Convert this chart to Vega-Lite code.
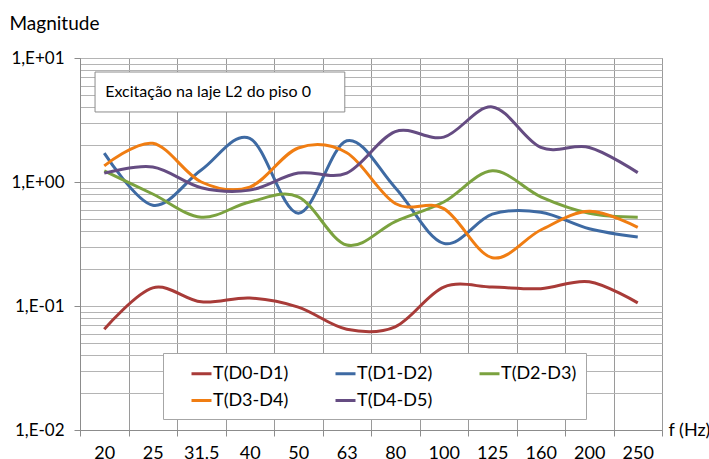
{
  "$schema": "https://vega.github.io/schema/vega-lite/v6.json",
  "width": 582,
  "height": 372,
  "autosize": {"type": "none"},
  "padding": {"left": 80, "top": 58, "right": 47, "bottom": 29},
  "background": "white",
  "config": {
    "font": "Lato",
    "view": {"stroke": "#8c8c8c", "strokeWidth": 1}
  },
  "datasets": {
    "series": [
      {"f": "20", "s": "T(D0-D1)", "v": 0.065},
      {"f": "25", "s": "T(D0-D1)", "v": 0.14},
      {"f": "31.5", "s": "T(D0-D1)", "v": 0.108},
      {"f": "40", "s": "T(D0-D1)", "v": 0.116},
      {"f": "50", "s": "T(D0-D1)", "v": 0.098},
      {"f": "63", "s": "T(D0-D1)", "v": 0.065},
      {"f": "80", "s": "T(D0-D1)", "v": 0.068},
      {"f": "100", "s": "T(D0-D1)", "v": 0.142},
      {"f": "125", "s": "T(D0-D1)", "v": 0.142},
      {"f": "160", "s": "T(D0-D1)", "v": 0.138},
      {"f": "200", "s": "T(D0-D1)", "v": 0.157},
      {"f": "250", "s": "T(D0-D1)", "v": 0.106},
      {"f": "20", "s": "T(D1-D2)", "v": 1.71},
      {"f": "25", "s": "T(D1-D2)", "v": 0.65},
      {"f": "31.5", "s": "T(D1-D2)", "v": 1.25},
      {"f": "40", "s": "T(D1-D2)", "v": 2.25},
      {"f": "50", "s": "T(D1-D2)", "v": 0.56},
      {"f": "63", "s": "T(D1-D2)", "v": 2.15},
      {"f": "80", "s": "T(D1-D2)", "v": 0.9},
      {"f": "100", "s": "T(D1-D2)", "v": 0.32},
      {"f": "125", "s": "T(D1-D2)", "v": 0.55},
      {"f": "160", "s": "T(D1-D2)", "v": 0.57},
      {"f": "200", "s": "T(D1-D2)", "v": 0.42},
      {"f": "250", "s": "T(D1-D2)", "v": 0.36},
      {"f": "20", "s": "T(D2-D3)", "v": 1.23},
      {"f": "25", "s": "T(D2-D3)", "v": 0.8},
      {"f": "31.5", "s": "T(D2-D3)", "v": 0.52},
      {"f": "40", "s": "T(D2-D3)", "v": 0.69},
      {"f": "50", "s": "T(D2-D3)", "v": 0.76},
      {"f": "63", "s": "T(D2-D3)", "v": 0.31},
      {"f": "80", "s": "T(D2-D3)", "v": 0.48},
      {"f": "100", "s": "T(D2-D3)", "v": 0.69},
      {"f": "125", "s": "T(D2-D3)", "v": 1.23},
      {"f": "160", "s": "T(D2-D3)", "v": 0.76},
      {"f": "200", "s": "T(D2-D3)", "v": 0.56},
      {"f": "250", "s": "T(D2-D3)", "v": 0.52},
      {"f": "20", "s": "T(D3-D4)", "v": 1.35},
      {"f": "25", "s": "T(D3-D4)", "v": 2.05},
      {"f": "31.5", "s": "T(D3-D4)", "v": 1.0},
      {"f": "40", "s": "T(D3-D4)", "v": 0.91},
      {"f": "50", "s": "T(D3-D4)", "v": 1.88},
      {"f": "63", "s": "T(D3-D4)", "v": 1.72},
      {"f": "80", "s": "T(D3-D4)", "v": 0.67},
      {"f": "100", "s": "T(D3-D4)", "v": 0.61},
      {"f": "125", "s": "T(D3-D4)", "v": 0.245},
      {"f": "160", "s": "T(D3-D4)", "v": 0.41},
      {"f": "200", "s": "T(D3-D4)", "v": 0.58},
      {"f": "250", "s": "T(D3-D4)", "v": 0.43},
      {"f": "20", "s": "T(D4-D5)", "v": 1.18},
      {"f": "25", "s": "T(D4-D5)", "v": 1.32},
      {"f": "31.5", "s": "T(D4-D5)", "v": 0.9},
      {"f": "40", "s": "T(D4-D5)", "v": 0.86},
      {"f": "50", "s": "T(D4-D5)", "v": 1.18},
      {"f": "63", "s": "T(D4-D5)", "v": 1.18},
      {"f": "80", "s": "T(D4-D5)", "v": 2.55},
      {"f": "100", "s": "T(D4-D5)", "v": 2.3},
      {"f": "125", "s": "T(D4-D5)", "v": 4.03},
      {"f": "160", "s": "T(D4-D5)", "v": 1.9},
      {"f": "200", "s": "T(D4-D5)", "v": 1.9},
      {"f": "250", "s": "T(D4-D5)", "v": 1.19}
    ],
    "note": [{"label": "Excitação na laje L2 do piso 0"}]
  },
  "layer": [
    {
      "data": {"name": "series"},
      "mark": {"type": "line", "interpolate": "cardinal", "strokeWidth": 3, "clip": true},
      "encoding": {
        "x": {
          "field": "f",
          "type": "nominal",
          "sort": null,
          "scale": {"type": "band", "domain": ["20", "25", "31.5", "40", "50", "63", "80", "100", "125", "160", "200", "250"], "paddingInner": 0, "paddingOuter": 0},
          "axis": {
            "title": "f (Hz)",
            "tickBand": "extent",
            "grid": true,
            "gridColor": "#9a9a9a",
            "gridWidth": 1,
            "domainColor": "#8c8c8c",
            "tickColor": "#8c8c8c",
            "tickSize": 6,
            "labelAngle": 0,
            "labelFontSize": 18,
            "labelColor": "#000000",
            "labelPadding": 8,
            "titleFontSize": 18,
            "titleFontWeight": "normal",
            "titleColor": "#000000",
            "titleX": 588,
            "titleY": 0,
            "titleAlign": "left",
            "titleBaseline": "middle"
          }
        },
        "y": {
          "field": "v",
          "type": "quantitative",
          "scale": {"type": "log", "domain": [0.01, 10], "nice": false},
          "axis": {
            "title": "Magnitude",
            "values": [0.01, 0.02, 0.03, 0.04, 0.05, 0.06, 0.07, 0.08, 0.09, 0.1, 0.2, 0.3, 0.4, 0.5, 0.6, 0.7, 0.8, 0.9, 1, 2, 3, 4, 5, 6, 7, 8, 9, 10],
            "labelExpr": "datum.value == 10 ? '1,E+01' : datum.value == 1 ? '1,E+00' : datum.value == 0.1 ? '1,E-01' : datum.value == 0.01 ? '1,E-02' : ''",
            "labelOverlap": false,
            "labelFlush": false,
            "labelFontSize": 17,
            "labelColor": "#000000",
            "labelPadding": 10,
            "grid": true,
            "gridColor": "#b4b4b4",
            "gridWidth": 1,
            "domainColor": "#8c8c8c",
            "tickColor": "#8c8c8c",
            "tickSize": 6,
            "tickOpacity": {"condition": {"test": "datum.value == 10 || datum.value == 1 || datum.value == 0.1 || datum.value == 0.01", "value": 1}, "value": 0},
            "titleAngle": 0,
            "titleX": -71,
            "titleY": -35,
            "titleAlign": "left",
            "titleBaseline": "middle",
            "titleFontSize": 19,
            "titleFontWeight": "normal",
            "titleColor": "#000000"
          }
        },
        "color": {
          "field": "s",
          "type": "nominal",
          "scale": {
            "domain": ["T(D0-D1)", "T(D1-D2)", "T(D2-D3)", "T(D3-D4)", "T(D4-D5)"],
            "range": ["#A83B38", "#3E6AA3", "#7BA23F", "#F07D12", "#654C82"]
          },
          "legend": {
            "title": null,
            "orient": "none",
            "legendX": 83,
            "legendY": 295,
            "columns": 3,
            "direction": "horizontal",
            "symbolType": "stroke",
            "symbolSize": 400,
            "symbolStrokeWidth": 3,
            "symbolOffset": 18,
            "labelFontSize": 18,
            "labelColor": "#000000",
            "labelOffset": 0,
            "columnPadding": 27,
            "rowPadding": 6,
            "padding": 9,
            "strokeColor": "#a6a6a6",
            "fillColor": "white"
          }
        }
      }
    },
    {
      "data": {"name": "note"},
      "mark": {"type": "rect", "fill": "white", "stroke": "#8c8c8c", "strokeWidth": 1},
      "encoding": {
        "x": {"datum": "20", "bandPosition": 0.31},
        "x2": {"datum": "63", "bandPosition": 0.46},
        "y": {"datum": 7.71},
        "y2": {"datum": 3.67}
      }
    },
    {
      "data": {"name": "note"},
      "mark": {"type": "text", "fontSize": 16, "color": "#000000", "align": "left", "baseline": "middle"},
      "encoding": {
        "x": {"datum": "20", "bandPosition": 0.52},
        "y": {"datum": 5.32},
        "text": {"field": "label"}
      }
    }
  ]
}
